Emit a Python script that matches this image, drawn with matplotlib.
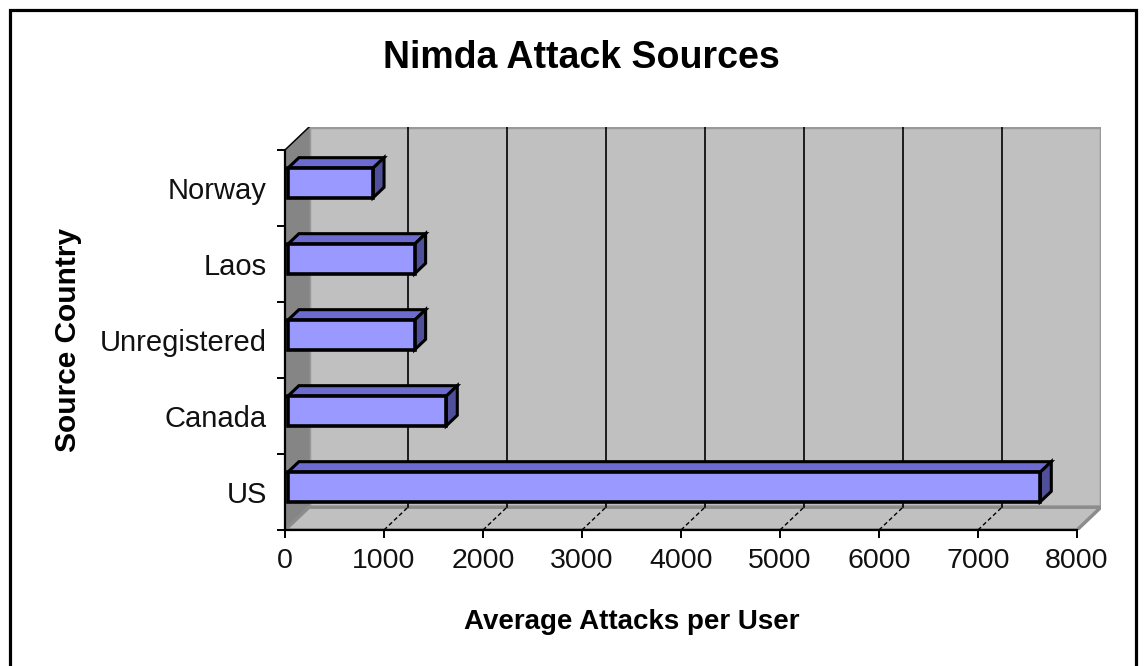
import matplotlib
matplotlib.use("Agg")
import matplotlib.pyplot as plt
from matplotlib.patches import Polygon, Rectangle

plt.rcParams["font.family"] = ["Liberation Sans", "DejaVu Sans"]

countries = ["US", "Canada", "Unregistered", "Laos", "Norway"]
attacks = [7600, 1600, 1280, 1280, 860]
x_ticks = [0, 1000, 2000, 3000, 4000, 5000, 6000, 7000, 8000]
x_max = 8000

# oblique depth of the 3-D box, in data units (value axis / category axis)
DX = 242
DY = 0.30
# bar slab runs from depth F0 to F1 (fractions of full box depth)
F0, F1 = 0.12, 0.58
HALF = 0.195
SHIFT = 0.03

W, H = 1145, 666
fig = plt.figure(figsize=(W / 100, H / 100), dpi=100)
px_x = 792 / x_max
px_y = 76
ax = fig.add_axes([285 / W, (H - 530) / H,
                   (x_max + DX) * px_x / W, (5 + DY) * px_y / H])
ax.set_xlim(0, x_max + DX)
ax.set_ylim(-0.5, len(countries) - 0.5 + DY)
ax.set_facecolor("none")

top = len(countries) - 0.5
bot = -0.5

# walls and floor
side = Polygon([(0, bot), (0, top), (DX, top + DY), (DX, bot + DY)],
               closed=True, facecolor="#858585", edgecolor="#858585", lw=1, zorder=1)
floor = Polygon([(0, bot), (x_max, bot), (x_max + DX, bot + DY), (DX, bot + DY)],
                closed=True, facecolor="#c0c0c0", edgecolor="#8c8c8c", lw=2.5, zorder=1)
back = Rectangle((DX, bot + DY), x_max, top - bot, facecolor="#c0c0c0",
                 edgecolor="#999999", lw=2.5, zorder=0.9)
ax.add_patch(back)
ax.add_patch(side)
ax.add_patch(floor)
ax.plot([0, DX], [top, top + DY], color="black", lw=1, zorder=1.2)

# gridlines on the back wall, dashed where they cross the floor
for t in x_ticks[1:-1]:
    ax.plot([t + DX, t + DX], [bot + DY, top + DY], color="black", lw=1.2, zorder=1.1)
    ax.plot([t, t + DX], [bot, bot + DY], color="black", lw=1, ls=(0, (3, 2)), zorder=1.2)

# 3-D bars
for i, v in enumerate(attacks):
    y0 = i - HALF + SHIFT
    y1 = i + HALF + SHIFT
    a = (F0 * DX, F0 * DY)
    b = (F1 * DX, F1 * DY)
    top_face = [(a[0], y1 + a[1]), (v + a[0], y1 + a[1]),
                (v + b[0], y1 + b[1]), (b[0], y1 + b[1])]
    side_face = [(v + a[0], y0 + a[1]), (v + b[0], y0 + b[1]),
                 (v + b[0], y1 + b[1]), (v + a[0], y1 + a[1])]
    front_face = [(a[0], y0 + a[1]), (v + a[0], y0 + a[1]),
                  (v + a[0], y1 + a[1]), (a[0], y1 + a[1])]
    ax.add_patch(Polygon(top_face, closed=True, facecolor="#6b6bd0",
                         edgecolor="black", lw=2.2, joinstyle="miter", zorder=3))
    ax.add_patch(Polygon(side_face, closed=True, facecolor="#50509a",
                         edgecolor="black", lw=2.2, joinstyle="miter", zorder=3))
    ax.add_patch(Polygon(front_face, closed=True, facecolor="#9999ff",
                         edgecolor="black", lw=2.6, joinstyle="miter", zorder=3.1))

# axes lines and ticks
for s in ["top", "right"]:
    ax.spines[s].set_visible(False)
ax.spines["left"].set_bounds(bot, top)
ax.spines["bottom"].set_bounds(0, x_max)
ax.spines["left"].set_linewidth(1.6)
ax.spines["bottom"].set_linewidth(1.6)
ax.spines["left"].set_zorder(4)
ax.spines["bottom"].set_zorder(4)

ax.set_xticks(x_ticks)
ax.set_xticklabels([str(t) for t in x_ticks], fontsize=20.5, color="#111111")
ax.tick_params(axis="x", direction="out", length=6, width=1.4, pad=7)

ax.set_yticks([k - 0.5 for k in range(len(countries) + 1)])
ax.set_yticklabels([])
ax.set_yticks(range(len(countries)), minor=True)
ax.set_yticklabels(countries, minor=True, fontsize=21, color="#111111")
ax.tick_params(axis="y", which="major", direction="out", length=6, width=1.4)
ax.tick_params(axis="y", which="minor", length=0, pad=13)

fig.text(581 / W, 1 - 58 / H, "Nimda Attack Sources", fontsize=27,
         fontweight="bold", ha="center", va="center")
fig.text(632 / W, 1 - 622 / H, "Average Attacks per User", fontsize=20,
         fontweight="bold", ha="center", va="center")
fig.text(68 / W, 1 - 340 / H, "Source Country", fontsize=21.5,
         fontweight="bold", ha="center", va="center", rotation=90)

# chart border
fig.patches.append(Rectangle((9.5 / W, -0.05), (1136 - 9.5) / W, 1.05 - 10.5 / H,
                             transform=fig.transFigure, fill=False,
                             edgecolor="black", lw=2.3))

fig.savefig("out.png", dpi=100)
